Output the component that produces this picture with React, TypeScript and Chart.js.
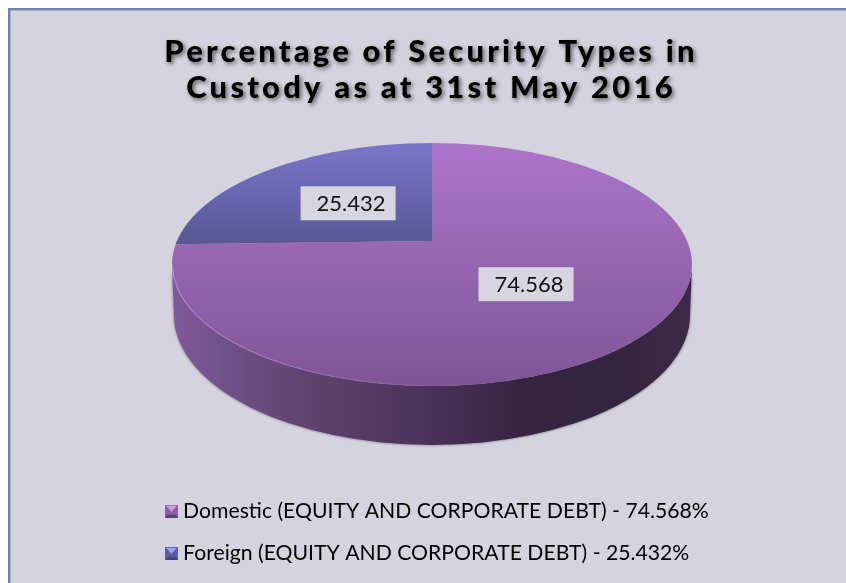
import React, { useEffect, useRef } from "react";
import { Chart, registerables } from "chart.js";

Chart.register(...registerables);

const titleLines = ["Percentage of Security Types in", "Custody as at 31st May 2016"];
const categories = ["Domestic (EQUITY AND CORPORATE DEBT)", "Foreign (EQUITY AND CORPORATE DEBT)"];
const seriesValues = [74.568, 25.432];
const labelRadialFractions = [0.51, 0.445];
const topColors = ["#AC75CA", "#7B75CA"];
const bottomColors = ["#7F5597", "#585694"];
const gradientBottoms = [386, 245];

const APEX_X = 432;
const APEX_Y = 241;
const ELLIPSE_X = 432;
const ELLIPSE_Y = 264.5;
const RX = 260;
const RY = 121.5;
const OVERSIZE = 1.4;
const RATIO = RY / RX;
const FONT = "Lato, 'Open Sans', sans-serif";

function marker(tip: string, side: string, dark: string) {
  const c = document.createElement("canvas");
  c.width = 13;
  c.height = 13;
  const g = c.getContext("2d")!;
  g.fillStyle = side;
  g.fillRect(0, 0, 13, 13);
  g.fillStyle = tip;
  g.beginPath();
  g.moveTo(1, 1);
  g.lineTo(12, 1);
  g.lineTo(6.5, 7);
  g.closePath();
  g.fill();
  g.fillStyle = dark;
  g.beginPath();
  g.moveTo(0, 13);
  g.lineTo(13, 13);
  g.lineTo(10, 10);
  g.lineTo(3, 10);
  g.closePath();
  g.fill();
  return c;
}

function scale(chart: any) {
  const a = chart.chartArea;
  const R = Math.min(a.right - a.left, a.bottom - a.top) / 2;
  const sx = (RX * OVERSIZE) / R;
  return { cx: (a.left + a.right) / 2, cy: (a.top + a.bottom) / 2, R, sx, sy: sx * RATIO };
}

const scene = {
  id: "scene",
  beforeDraw(chart: any) {
    const ctx = chart.ctx;
    ctx.save();
    ctx.fillStyle = "#ffffff";
    ctx.fillRect(0, 0, chart.width, chart.height);
    ctx.fillStyle = "#D4D3DE";
    ctx.fillRect(9, 9, chart.width, chart.height);
    ctx.strokeStyle = "#6C86AF";
    ctx.lineWidth = 2.4;
    ctx.strokeRect(9.2, 9.2, chart.width + 20, chart.height + 20);
    ctx.restore();
    const tb = chart.titleBlock;
    if (tb && !tb.__patched) {
      tb.__patched = true;
      const orig = tb.draw;
      tb.draw = function (...args: any[]) {
        ctx.save();
        ctx.letterSpacing = "3.2px";
        ctx.shadowColor = "rgba(0,0,0,0.55)";
        ctx.shadowBlur = 4;
        ctx.shadowOffsetX = 2;
        ctx.shadowOffsetY = 2;
        orig.apply(this, args);
        ctx.restore();
      };
    }
    if (chart.legend) {
      chart.legend.left = 149.5;
      chart.legend.top = 479.5;
    }
  },
  beforeDatasetsDraw(chart: any) {
    const ctx = chart.ctx;
    // side wall
    ctx.save();
    const side = ctx.createLinearGradient(ELLIPSE_X - RX, 0, ELLIPSE_X + RX, 0);
    side.addColorStop(0, "#80599A");
    side.addColorStop(0.12, "#6F4F85");
    side.addColorStop(0.25, "#624370");
    side.addColorStop(0.5, "#4B3159");
    side.addColorStop(0.68, "#352340");
    side.addColorStop(0.85, "#35243F");
    side.addColorStop(1, "#3D2A49");
    ctx.fillStyle = side;
    ctx.shadowColor = "rgba(60,60,60,0.7)";
    ctx.shadowBlur = 3;
    ctx.beginPath();
    ctx.ellipse(ELLIPSE_X, ELLIPSE_Y, RX, RY, 0, Math.PI, 0, true);
    ctx.ellipse(ELLIPSE_X, 315, RX - 2, 130, 0, 0, Math.PI, false);
    ctx.closePath();
    ctx.fill();
    ctx.restore();
    // clip to the top face, project the library's arcs onto it
    ctx.save();
    ctx.beginPath();
    ctx.ellipse(ELLIPSE_X, ELLIPSE_Y, RX, RY, 0, 0, Math.PI * 2);
    ctx.clip();
    const { cx, cy, sx, sy } = scale(chart);
    ctx.translate(APEX_X, APEX_Y);
    ctx.scale(sx, sy);
    ctx.translate(-cx, -cy);
  },
  afterDatasetsDraw(chart: any) {
    const ctx = chart.ctx;
    ctx.restore();
    // lighter rim
    ctx.save();
    const rim = ctx.createLinearGradient(ELLIPSE_X - RX, 0, ELLIPSE_X, 0);
    rim.addColorStop(0, "rgba(190,145,220,0.8)");
    rim.addColorStop(1, "rgba(190,145,220,0)");
    ctx.strokeStyle = rim;
    ctx.lineWidth = 1;
    ctx.beginPath();
    ctx.ellipse(ELLIPSE_X, ELLIPSE_Y, RX - 0.5, RY - 0.5, 0, Math.PI / 2, Math.PI, false);
    ctx.stroke();
    ctx.restore();
    // value labels
    const arcs = chart.getDatasetMeta(0).data;
    ctx.save();
    ctx.font = `22px ${FONT}`;
    ctx.textAlign = "center";
    ctx.textBaseline = "middle";
    arcs.forEach((arc: any, i: number) => {
      const mid = (arc.startAngle + arc.endAngle) / 2;
      const x = APEX_X + Math.cos(mid) * RX * labelRadialFractions[i];
      const y = APEX_Y + Math.sin(mid) * RY * labelRadialFractions[i];
      ctx.fillStyle = "#D6D5E0";
      ctx.fillRect(x - 48.5, y - 17, 95, 34);
      ctx.fillStyle = "#111111";
      ctx.fillText(String(seriesValues[i]), x + 2, y + 1);
    });
    ctx.restore();
  },
};

export default function App() {
  const ref = useRef<HTMLCanvasElement>(null);
  useEffect(() => {
    const markers = [marker("#CF9FEA", "#8A5FA3", "#5F4272"), marker("#A3A0EC", "#5F5C9E", "#45437A")];
    const chart = new Chart(ref.current!, {
      type: "pie",
      plugins: [scene],
      data: {
        labels: categories,
        datasets: [
          {
            data: seriesValues,
            clip: false,
            borderWidth: 0,
            hoverOffset: 0,
            backgroundColor: (c: any) => {
              const ch = c.chart;
              if (!ch.chartArea) return topColors[c.dataIndex];
              const { cy, sy } = scale(ch);
              const toChart = (y: number) => cy + (y - APEX_Y) / sy;
              const g = ch.ctx.createLinearGradient(0, toChart(143), 0, toChart(gradientBottoms[c.dataIndex]));
              g.addColorStop(0, topColors[c.dataIndex]);
              g.addColorStop(1, bottomColors[c.dataIndex]);
              return g;
            },
          } as any,
        ],
      },
      options: {
        responsive: false,
        animation: false,
        devicePixelRatio: 1,
        layout: { padding: { left: 16 } },
        plugins: {
          tooltip: { enabled: false },
          title: {
            display: true,
            text: titleLines,
            color: "#000000",
            font: { family: FONT, size: 31, weight: "900", lineHeight: 1.16 },
            padding: { top: 34, bottom: 20 },
          },
          legend: {
            position: "bottom",
            align: "start",
            labels: {
              color: "#111111",
              font: { family: FONT, size: 21.2 },
              padding: 21,
              usePointStyle: true,
              boxWidth: 2,
              boxHeight: 13,
              generateLabels: () =>
                categories.map((name, i) => ({
                  text: `${name} - ${seriesValues[i]}%`,
                  pointStyle: markers[i],
                  fillStyle: topColors[i],
                  strokeStyle: "transparent",
                  lineWidth: 0,
                  index: i,
                })),
            },
          },
        },
      } as any,
    });
    return () => chart.destroy();
  }, []);
  return (
    <canvas
      ref={ref}
      width={846}
      height={583}
      style={{ position: "fixed", left: 0, top: 0, display: "block" }}
    />
  );
}
